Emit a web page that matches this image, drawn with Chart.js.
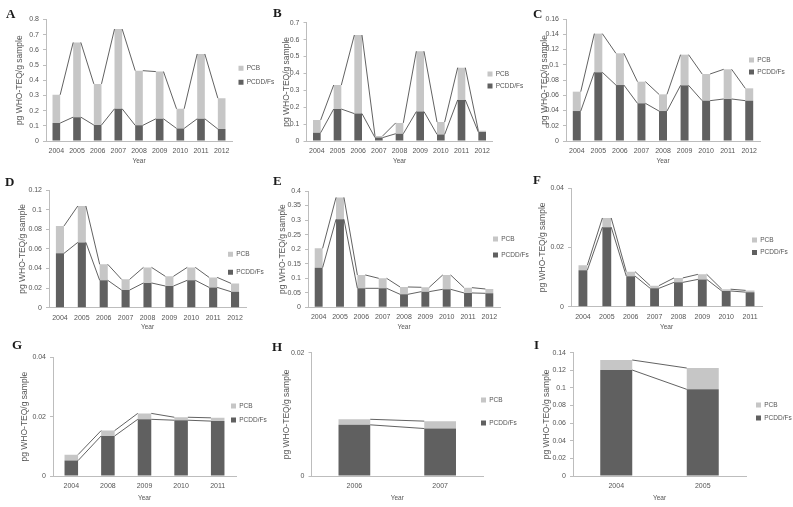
<!DOCTYPE html>
<html><head><meta charset="utf-8">
<script src="https://cdn.jsdelivr.net/npm/chart.js@4.4.1/dist/chart.umd.min.js"></script>
<style>
html,body{margin:0;padding:0;background:#fff;width:793px;height:507px;overflow:hidden;position:relative}
.panel{position:absolute}
.panel canvas{display:block}
.letter{position:absolute;font-family:'Liberation Serif','Times New Roman',serif;font-weight:bold;font-size:13px;line-height:13px;color:#1a1a1a}
</style></head><body>
<script>
// ---------- data ----------
const yearsA = ['2004','2005','2006','2007','2008','2009','2010','2011','2012'];
const pcddA = [0.118, 0.157, 0.105, 0.212, 0.103, 0.146, 0.083, 0.146, 0.079];
const pcbA  = [0.186, 0.492, 0.271, 0.525, 0.360, 0.311, 0.129, 0.427, 0.203];
const yTicksA = [0, 0.1, 0.2, 0.3, 0.4, 0.5, 0.6, 0.7, 0.8];

const yearsB = ['2004','2005','2006','2007','2008','2009','2010','2011','2012'];
const pcddB = [0.049, 0.189, 0.162, 0.020, 0.043, 0.174, 0.039, 0.243, 0.053];
const pcbB  = [0.075, 0.142, 0.465, 0.010, 0.064, 0.357, 0.073, 0.191, 0.008];
const yTicksB = [0, 0.1, 0.2, 0.3, 0.4, 0.5, 0.6, 0.7];

const yearsC = ['2004','2005','2006','2007','2008','2009','2010','2011','2012'];
const pcddC = [0.0393, 0.0901, 0.0734, 0.0494, 0.0393, 0.0730, 0.0529, 0.0551, 0.0529];
const pcbC  = [0.0254, 0.0507, 0.0416, 0.0284, 0.0219, 0.0402, 0.0350, 0.0389, 0.0162];
const yTicksC = [0, 0.02, 0.04, 0.06, 0.08, 0.1, 0.12, 0.14, 0.16];

const yearsD = ['2004','2005','2006','2007','2008','2009','2010','2011','2012'];
const pcddD = [0.0554, 0.0666, 0.0279, 0.0180, 0.0252, 0.0221, 0.0279, 0.0207, 0.0163];
const pcbD  = [0.0279, 0.0371, 0.0163, 0.0109, 0.0159, 0.0099, 0.0132, 0.0102, 0.0085];
const yTicksD = [0, 0.02, 0.04, 0.06, 0.08, 0.1, 0.12];

const yearsE = ['2004','2005','2006','2007','2008','2009','2010','2011','2012'];
const pcddE = [0.1364, 0.3026, 0.0653, 0.0653, 0.0447, 0.0539, 0.0619, 0.0493, 0.0481];
const pcbE  = [0.0665, 0.0754, 0.0459, 0.0344, 0.0252, 0.0149, 0.0493, 0.0183, 0.0149];
const yTicksE = [0, 0.05, 0.1, 0.15, 0.2, 0.25, 0.3, 0.35, 0.4];

const yearsF = ['2004','2005','2006','2007','2008','2009','2010','2011'];
const pcddF = [0.0123, 0.0268, 0.0103, 0.0062, 0.0082, 0.0092, 0.0053, 0.0049];
const pcbF  = [0.0017, 0.0031, 0.0015, 0.0009, 0.0015, 0.0017, 0.0006, 0.0006];
const yTicksF = [0, 0.02, 0.04];

const yearsG = ['2004','2008','2009','2010','2011'];
const pcddG = [0.0052, 0.0135, 0.0191, 0.0188, 0.0185];
const pcbG  = [0.0020, 0.0018, 0.0020, 0.0010, 0.0011];
const yTicksG = [0, 0.02, 0.04];

const yearsH = ['2006','2007'];
const pcddH = [0.0083, 0.0077];
const pcbH  = [0.0009, 0.0012];
const yTicksH = [0, 0.02];

const yearsI = ['2004','2005'];
const pcddI = [0.1203, 0.0984];
const pcbI  = [0.0114, 0.0242];
const yTicksI = [0, 0.02, 0.04, 0.06, 0.08, 0.1, 0.12, 0.14];

const seriesNames = ['PCDD/Fs', 'PCB'];
const yAxisTitle = 'pg WHO-TEQ/g sample';
const xAxisTitle = 'Year';

// ---------- style / layout ----------
const DARK = '#606060', LIGHT = '#c6c6c6', TXT = '#555555', AX = '#bdbdbd', LINE = '#3a3a3a';
const FONT = "'Liberation Sans', Arial, sans-serif";
const LEGW = 10;
const TICKFS = 7, LEGFS = 6.5, YTFS = 8.5, XTFS = 6.5;

const panels = [
  {id:'A', years:yearsA, pcdd:pcddA, pcb:pcbA, ticks:yTicksA, box:[0,0,300,170],   area:[46,232,19.5,141],   leg:[238.5,68.3,14], ytx:20,  yearY:161.7, letter:[6,17.5]},
  {id:'B', years:yearsB, pcdd:pcddB, pcb:pcbB, ticks:yTicksB, box:[260,0,300,170], area:[306.5,492.5,22.7,141], leg:[487.5,74,12], ytx:287, yearY:161.7, letter:[273,16]},
  {id:'C', years:yearsC, pcdd:pcddC, pcb:pcbC, ticks:yTicksC, box:[520,0,273,170], area:[566,760,19,141],    leg:[749,60,12],   ytx:545, yearY:161.7, letter:[533,17]},
  {id:'D', years:yearsD, pcdd:pcddD, pcb:pcbD, ticks:yTicksD, box:[0,165,300,170], area:[49,246,190,307.7],  leg:[228,254.3,18], ytx:23,  yearY:327.7, letter:[5,185]},
  {id:'E', years:yearsE, pcdd:pcddE, pcb:pcbE, ticks:yTicksE, box:[260,165,300,170], area:[308,500,191,307.3], leg:[493,239,16], ytx:283, yearY:327.7, letter:[273,184]},
  {id:'F', years:yearsF, pcdd:pcddF, pcb:pcbF, ticks:yTicksF, box:[520,165,273,170], area:[571,762,188,306.7], leg:[752,240,12.5], ytx:543, yearY:327.7, letter:[533,183]},
  {id:'G', years:yearsG, pcdd:pcddG, pcb:pcbG, ticks:yTicksG, box:[0,330,300,177], area:[53,236,357.3,476],  leg:[231,406,14],  ytx:25,  yearY:498, letter:[12,348]},
  {id:'H', years:yearsH, pcdd:pcddH, pcb:pcbH, ticks:yTicksH, box:[260,330,300,177], area:[311.5,483,352.7,476], leg:[481,400,23], ytx:287, yearY:498, letter:[272,350]},
  {id:'I', years:yearsI, pcdd:pcddI, pcb:pcbI, ticks:yTicksI, box:[520,330,273,177], area:[573,746,352.7,476], leg:[756,405,13],  ytx:547, yearY:498, letter:[534,348]}
];

// series lines (Excel-style) connecting stacked segment tops
const seriesLines = {
  id: 'seriesLines',
  afterDatasetsDraw(chart) {
    const ctx = chart.ctx;
    ctx.save();
    ctx.strokeStyle = LINE;
    ctx.lineWidth = 0.8;
    chart.data.datasets.forEach((ds, di) => {
      const els = chart.getDatasetMeta(di).data;
      ctx.beginPath();
      for (let i = 0; i < els.length - 1; i++) {
        const a = els[i].getProps(['x','y','width'], true);
        const b = els[i+1].getProps(['x','y','width'], true);
        ctx.moveTo(a.x + a.width/2, a.y);
        ctx.lineTo(b.x - b.width/2, b.y);
      }
      ctx.stroke();
    });
    ctx.restore();
  }
};

// place the library legend at the reference position (canvas-relative)
const legendPlace = {
  id: 'legendPlace',
  beforeDraw(chart, args, opts) {
    const lg = chart.legend;
    if (!lg) return;
    const lo = lg.options.labels;
    const p = lo.padding;
    const itemH = Math.max(LEGFS, lo.boxHeight);
    lg.left = opts.x - opts.ox - p;
    lg.right = lg.left + 120;
    lg.top = opts.y - opts.oy - itemH/2 - p;
    lg.bottom = lg.top + 400;
  }
};

Chart.defaults.font.family = FONT;
Chart.defaults.color = TXT;

panels.forEach(pn => {
  const [x0, y0, w, h] = pn.box;
  const [L, R, T, B] = pn.area;
  const wrap = document.createElement('div');
  wrap.className = 'panel';
  wrap.style.left = x0 + 'px'; wrap.style.top = y0 + 'px';
  wrap.style.width = w + 'px'; wrap.style.height = h + 'px';
  const cv = document.createElement('canvas');
  cv.width = w; cv.height = h;
  cv.style.width = w + 'px'; cv.style.height = h + 'px';
  wrap.appendChild(cv);
  document.body.appendChild(wrap);

  const lt = document.createElement('div');
  lt.className = 'letter';
  lt.textContent = pn.id;
  lt.style.left = pn.letter[0] + 'px';
  lt.style.top = (pn.letter[1] - 10.5) + 'px';
  document.body.appendChild(lt);

  const itemH = Math.max(LEGFS, 5);
  const ticks = pn.ticks;
  const xLh = XTFS * 1.2, yLh = YTFS * 1.2;

  new Chart(cv, {
    type: 'bar',
    data: {
      labels: pn.years,
      datasets: [
        {label: seriesNames[0], data: pn.pcdd, backgroundColor: DARK, borderWidth: 0, barPercentage: 0.37, categoryPercentage: 1},
        {label: seriesNames[1], data: pn.pcb, backgroundColor: LIGHT, borderWidth: 0, barPercentage: 0.37, categoryPercentage: 1}
      ]
    },
    options: {
      responsive: false,
      animation: false,
      devicePixelRatio: 1,
      layout: {padding: {left: 0, top: T - y0, right: x0 + w - LEGW - R, bottom: 0}},
      plugins: {
        legend: {
          position: 'right', align: 'start', reverse: true, maxWidth: LEGW,
          labels: {boxWidth: 5, boxHeight: 5, padding: pn.leg[2] - itemH, font: {size: LEGFS}, color: TXT, textAlign: 'left'}
        },
        tooltip: {enabled: false},
        legendPlace: {x: pn.leg[0], y: pn.leg[1], ox: x0, oy: y0}
      },
      scales: {
        x: {
          stacked: true, offset: true,
          grid: {display: false, drawTicks: false, tickLength: 0},
          border: {display: true, color: AX, width: 1},
          ticks: {font: {size: TICKFS}, color: TXT, padding: 6, maxRotation: 0, autoSkip: false},
          title: {display: true, text: xAxisTitle, font: {size: XTFS}, color: TXT, padding: {top: 0, bottom: (y0 + h) - pn.yearY - xLh/2}},
          afterFit: s => { s.height = (y0 + h) - B; }
        },
        y: {
          stacked: true, min: 0, max: ticks[ticks.length - 1],
          grid: {display: true, drawOnChartArea: false, drawTicks: true, tickLength: 3, color: AX},
          border: {display: true, color: AX, width: 1},
          ticks: {font: {size: TICKFS}, color: TXT, padding: 4, callback: v => String(v)},
          afterBuildTicks: s => { s.ticks = ticks.map(v => ({value: v})); },
          title: {display: true, text: yAxisTitle, font: {size: YTFS}, color: TXT, padding: {top: pn.ytx - x0 - yLh/2, bottom: 0}},
          afterFit: s => { s.width = L - x0; }
        }
      }
    },
    plugins: [seriesLines, legendPlace]
  });
});
</script>
</body></html>
